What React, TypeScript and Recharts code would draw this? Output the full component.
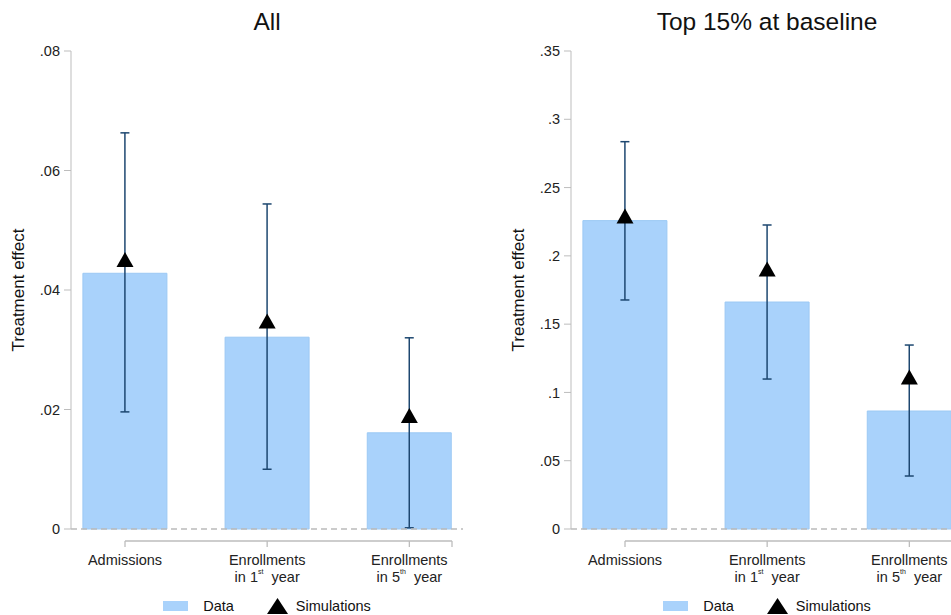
import React from "react";
import {
  Bar,
  ComposedChart,
  ErrorBar,
  ReferenceLine,
  Scatter,
  XAxis,
  YAxis,
} from "recharts";

// category labels (line 1, number + superscript on line 2)
const catLine1 = ["Admissions", "Enrollments", "Enrollments"];
const catNum = ["", "1", "5"];
const catSup = ["", "st", "th"];
const catX = [0, 1, 2];

// panel "All"
const allData = [0.0428, 0.0321, 0.0161];
const allSim = [0.0451, 0.0348, 0.019];
const allLow = [0.0196, 0.01, 0.0002];
const allHigh = [0.0663, 0.0544, 0.032];
const allTicks = [0, 0.02, 0.04, 0.06, 0.08];

// panel "Top 15% at baseline"
const topData = [0.2258, 0.1662, 0.0864];
const topSim = [0.2292, 0.1904, 0.1113];
const topLow = [0.1677, 0.1098, 0.0388];
const topHigh = [0.2836, 0.2226, 0.1347];
const topTicks = [0, 0.05, 0.1, 0.15, 0.2, 0.25, 0.3, 0.35];

const FONT = '"Liberation Sans", Arial, sans-serif';
const CHART_W = 500;
const CHART_H = 615;
const MARGIN = { top: 51, right: 37, bottom: 0, left: 11 };
const Y_W = 60;
const PAD_L = 54;
const PAD_R = 11;
const X_MAX = 2.3;
const PLOT_W = CHART_W - MARGIN.left - MARGIN.right - Y_W;
const AXIS_SPAN = PLOT_W - PAD_L - PAD_R;
const AXIS_GRAY = "#bdbdbd";

function buildRows(data: number[], sim: number[], low: number[], high: number[]) {
  return catX.map((x, i) => ({
    x,
    data: data[i],
    sim: sim[i],
    err: [data[i] - low[i], high[i] - data[i]],
  }));
}

function fmt(v: number) {
  if (v === 0) return "0";
  return String(v).replace(/^0/, "");
}

function CategoryTick(props: any) {
  const { x, y, payload, index } = props;
  const i = catX.indexOf(payload.value);
  const ly = y + 12;
  return (
    <g>
      {index === 0 && (
        <>
          <line x1={x} y1={ly} x2={x + AXIS_SPAN} y2={ly} stroke={AXIS_GRAY} strokeWidth={1.3} />
          <line x1={x + AXIS_SPAN} y1={ly} x2={x + AXIS_SPAN} y2={ly + 6} stroke={AXIS_GRAY} strokeWidth={1.3} />
        </>
      )}
      <line x1={x} y1={ly} x2={x} y2={ly + 6} stroke={AXIS_GRAY} strokeWidth={1.3} />
      <text x={x} y={y + 36} textAnchor="middle" fontSize={14.5} fill="#222" fontFamily={FONT}>
        {catLine1[i]}
      </text>
      {catNum[i] && (
        <text x={x} y={y + 53} textAnchor="middle" fontSize={14.5} fill="#222" fontFamily={FONT} style={{ whiteSpace: "pre" }}>
          <tspan>{"in " + catNum[i]}</tspan>
          <tspan dy={-8} fontSize={7}>{catSup[i]}</tspan>
          <tspan dy={8}>{"  year"}</tspan>
        </text>
      )}
    </g>
  );
}

function YLabel(props: any) {
  const { x, y, height } = props.viewBox;
  const cx = x + 7;
  const cy = y + height / 2;
  return (
    <text
      x={cx}
      y={cy}
      transform={`rotate(-90 ${cx} ${cy})`}
      textAnchor="middle"
      dominantBaseline="central"
      fontSize={17}
      fill="#111"
      fontFamily={FONT}
    >
      Treatment effect
    </text>
  );
}

function Triangle(props: any) {
  const { cx, cy } = props;
  return (
    <polygon
      points={`${cx},${cy - 7.5} ${cx + 8.5},${cy + 7.5} ${cx - 8.5},${cy + 7.5}`}
      fill="#000"
    />
  );
}

function Panel({
  title,
  left,
  rows,
  ticks,
}: {
  title: string;
  left: number;
  rows: any[];
  ticks: number[];
}) {
  const plotLeft = MARGIN.left + Y_W;
  return (
    <div style={{ position: "absolute", left, top: 0, width: CHART_W, height: CHART_H }}>
      <div
        style={{
          position: "absolute",
          left: plotLeft,
          width: PLOT_W,
          top: 8,
          lineHeight: "28px",
          textAlign: "center",
          fontSize: 24.5,
          fontFamily: FONT,
          color: "#111",
        }}
      >
        {title}
      </div>
      <ComposedChart width={CHART_W} height={CHART_H} data={rows} margin={MARGIN}>
        <XAxis
          dataKey="x"
          type="number"
          domain={[0, X_MAX]}
          ticks={catX}
          interval={0}
          padding={{ left: PAD_L, right: PAD_R }}
          axisLine={false}
          tickLine={false}
          tickSize={0}
          tickMargin={0}
          height={86}
          tick={(p: any) => <CategoryTick {...p} />}
        />
        <YAxis
          type="number"
          domain={[ticks[0], ticks[ticks.length - 1]]}
          ticks={ticks}
          interval={0}
          width={Y_W}
          stroke={AXIS_GRAY}
          tickSize={7}
          tickMargin={4}
          tickFormatter={fmt}
          tick={{ fill: "#222", fontSize: 14.5, fontFamily: FONT }}
          label={<YLabel />}
        />
        <Bar
          dataKey="data"
          barSize={84}
          fill="#a9d2fb"
          stroke="#9cc9f4"
          strokeWidth={1}
          isAnimationActive={false}
        >
          <ErrorBar dataKey="err" width={4.5} stroke="#1d4770" strokeWidth={1.5} direction="y" />
        </Bar>
        <ReferenceLine y={0} stroke="#bbbbbb" strokeDasharray="6 4" strokeWidth={1.3} />
        <Scatter dataKey="sim" shape={Triangle} isAnimationActive={false} />
      </ComposedChart>
      <div
        style={{
          position: "absolute",
          left: plotLeft,
          width: PLOT_W,
          top: 598,
          height: 16,
          display: "flex",
          justifyContent: "center",
          alignItems: "center",
          fontSize: 14.5,
          fontFamily: FONT,
          color: "#111",
        }}
      >
        <div style={{ width: 25, height: 10, background: "#a9d2fb", marginRight: 15 }} />
        <span style={{ marginRight: 33 }}>Data</span>
        <svg width={21} height={16} style={{ marginRight: 8 }}>
          <polygon points="10.5,0 21,16 0,16" fill="#000" />
        </svg>
        <span>Simulations</span>
      </div>
    </div>
  );
}

export default function App() {
  const allRows = buildRows(allData, allSim, allLow, allHigh);
  const topRows = buildRows(topData, topSim, topLow, topHigh);
  return (
    <div
      style={{
        position: "absolute",
        left: 0,
        top: 0,
        width: 951,
        height: 615,
        overflow: "hidden",
        background: "#fff",
      }}
    >
      <Panel title="All" left={0} rows={allRows} ticks={allTicks} />
      <Panel title="Top 15% at baseline" left={500} rows={topRows} ticks={topTicks} />
    </div>
  );
}
